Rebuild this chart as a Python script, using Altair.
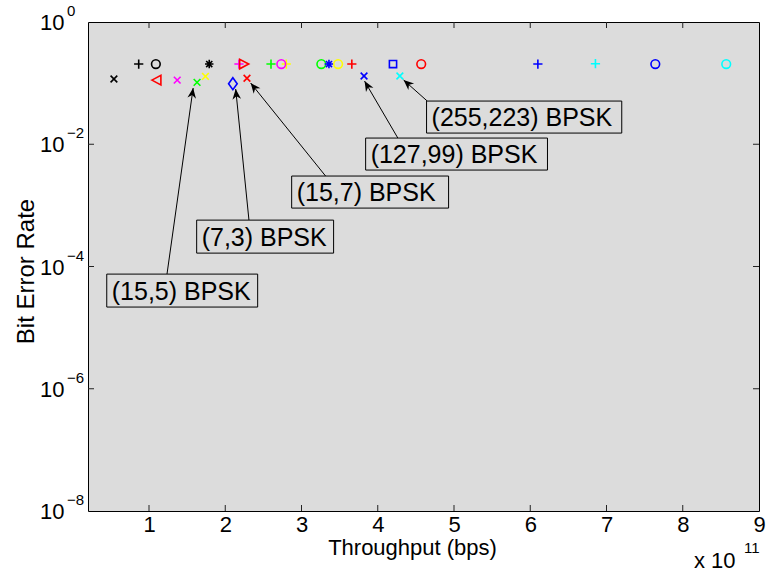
import math
import altair as alt
import pandas as pd

FONT = "Liberation Sans"

# ---- data (x in units of 1e11 bps) ----
throughput = [0.54, 0.865, 1.09, 1.10, 1.37, 1.63, 1.74, 1.79, 2.10, 2.18, 2.245, 2.285,
              2.60, 2.80, 2.735, 3.26, 3.36, 3.48, 3.66, 3.82, 4.20, 4.29, 4.57,
              6.10, 6.855, 7.64, 8.57]
ber = [0.117, 0.205, 0.205, 0.112, 0.112, 0.103, 0.129, 0.205, 0.0977, 0.205, 0.205, 0.120,
       0.205, 0.205, 0.205, 0.205, 0.205, 0.205, 0.205, 0.131, 0.205, 0.131, 0.205,
       0.205, 0.208, 0.205, 0.205]
color_codes = ['k', 'k', 'k', 'r', 'm', 'g', 'y', 'k', 'b', 'm', 'r', 'r',
               'g', 'y', 'm', 'g', 'b', 'y', 'r', 'b', 'b', 'c', 'r',
               'b', 'c', 'b', 'c']
marker_codes = ['x', '+', 'o', '<', 'x', 'x', 'x', '*', 'd', '+', '>', 'x',
                '+', '+', 'o', 'o', '*', 'o', '+', 'x', 's', 'x', 'o',
                '+', '+', 'o', 'o']

ann_labels = ['(15,5) BPSK', '(7,3) BPSK', '(15,7) BPSK', '(127,99) BPSK', '(255,223) BPSK']
ann_box_x1 = [0.446, 1.625, 2.871, 3.841, 4.64]
ann_box_x2 = [2.425, 3.421, 4.929, 6.226, 7.20]
ann_box_top = [7.51e-5, 5.74e-4, 3.02e-3, 1.263e-2, 5.09e-2]
ann_box_bot = [2.17e-5, 1.656e-4, 9.03e-4, 3.784e-3, 1.524e-2]
ann_tail_x = [1.236, 2.311, 3.316, 4.264, 4.649]
ann_tail_y = [7.5e-5, 5.74e-4, 3.02e-3, 1.26e-2, 5.09e-2]
ann_head_x = [1.579, 2.137, 2.333, 3.827, 4.339]
ann_head_y = [0.0832, 0.080, 0.1004, 0.108, 0.1124]

x_ticks = [1, 2, 3, 4, 5, 6, 7, 8, 9]
y_ticks = [1e-8, 1e-6, 1e-4, 1e-2, 1]
y_tick_exp = ['−8', '−6', '−4', '−2', '0']

x_title = 'Throughput (bps)'
y_title = 'Bit Error Rate'
mult_base = 'x 10'
mult_exp = '11'

# ---- layout / styles ----
W, H = 671, 489
XMIN, XMAX = 0.2, 9.0
YMIN, YMAX = 1e-8, 1.0
BG = '#dcdcdc'

color_map = {'k': '#000000', 'r': '#ff0000', 'g': '#00ff00', 'b': '#0000ff',
             'c': '#00ffff', 'm': '#ff00ff', 'y': '#ffff00'}
PLUS = 'M-1,0L1,0M0,-1L0,1'
CROSS = 'M-1,-1L1,1M-1,1L1,-1'
STAR = PLUS + 'M-0.72,-0.72L0.72,0.72M-0.72,0.72L0.72,-0.72'
shape_map = {'x': CROSS, '+': PLUS, '*': STAR, 'o': 'circle',
             '<': 'M-1,0L0.9,-1L0.9,1Z', '>': 'M1,0L-0.9,-1L-0.9,1Z',
             'd': 'M0,-1L0.72,0L0,1L-0.72,0Z', 's': 'square'}
size_map = {'x': 45, '+': 85, '*': 72, 'o': 75, '<': 90, '>': 90, 'd': 144, 's': 52}
ARROW = 'M0,0L-0.42,1L0,0.7L0.42,1Z'

mk = list(shape_map.keys())
cc = list(color_map.keys())

xscale = alt.Scale(domain=[XMIN, XMAX], nice=False, zero=False)
yscale = alt.Scale(type='log', domain=[YMIN, YMAX], nice=False)
xaxis = alt.Axis(values=x_ticks, format='d', title=x_title, labelFontSize=22, labelFont=FONT,
                 titleFont=FONT, titleFontSize=22, titleFontWeight='normal', titleColor='black',
                 labelColor='black', ticks=False, domain=False, grid=False, labelPadding=3,
                 labelFlush=False, labelOverlap=False, titleX=324, titleY=43,
                 titleBaseline='alphabetic')
yaxis = alt.Axis(labels=False, ticks=False, domain=False, grid=False, title=y_title,
                 titleFont=FONT, titleFontSize=24, titleFontWeight='normal', titleColor='black',
                 titleX=-55, titleY=249, titleBaseline='alphabetic', titleAngle=270)


def X(f):
    return alt.X(f, type='quantitative', scale=xscale, axis=xaxis)


def Y(f):
    return alt.Y(f, type='quantitative', scale=yscale, axis=yaxis)


def px(x):
    return (x - XMIN) / (XMAX - XMIN) * W


def py(y):
    return (math.log10(YMAX) - math.log10(y)) / (math.log10(YMAX) - math.log10(YMIN)) * H


pts = pd.DataFrame({'x': throughput, 'y': ber, 'c': color_codes, 'm': marker_codes,
                    'i': list(range(len(throughput)))})
pts['sz'] = pts['m'].map(size_map)

points = alt.Chart(pts).mark_point(filled=False, strokeWidth=1.6, opacity=1).encode(
    x=X('x'), y=Y('y'),
    color=alt.Color('c:N', scale=alt.Scale(domain=cc, range=[color_map[k] for k in cc]), legend=None),
    shape=alt.Shape('m:N', scale=alt.Scale(domain=mk, range=[shape_map[k] for k in mk]), legend=None),
    size=alt.Size('sz:Q', scale=None),
    order=alt.Order('i:Q'),
)

xt = pd.DataFrame({'x': x_ticks[:-1]})
yt = pd.DataFrame({'y': y_ticks[1:-1]})
tick_color = '#222222'
ticks = alt.layer(
    alt.Chart(xt).mark_rule(color=tick_color).encode(x=X('x'), y=alt.value(H), y2=alt.value(H - 6)),
    alt.Chart(xt).mark_rule(color=tick_color).encode(x=X('x'), y=alt.value(0), y2=alt.value(6)),
    alt.Chart(yt).mark_rule(color=tick_color).encode(y=Y('y'), x=alt.value(0), x2=alt.value(6)),
    alt.Chart(yt).mark_rule(color=tick_color).encode(y=Y('y'), x=alt.value(W), x2=alt.value(W - 6)),
)

angles = []
for tx, ty, hx, hy in zip(ann_tail_x, ann_tail_y, ann_head_x, ann_head_y):
    dx = px(hx) - px(tx)
    dy = py(hy) - py(ty)
    angles.append(math.degrees(math.atan2(dx, -dy)) % 360)

ann = pd.DataFrame({
    'label': ann_labels, 'bx1': ann_box_x1, 'bx2': ann_box_x2,
    'bt': ann_box_top, 'bb': ann_box_bot,
    'ym': [math.sqrt(a * b) for a, b in zip(ann_box_top, ann_box_bot)],
    'tx': ann_tail_x, 'ty': ann_tail_y, 'hx': ann_head_x, 'hy': ann_head_y,
    'ang': angles,
})

arrow_lines = alt.Chart(ann).mark_rule(color='black', strokeWidth=1).encode(
    x=X('tx'), y=Y('ty'), x2='hx:Q', y2='hy:Q')
arrow_heads = alt.Chart(ann).mark_point(shape=ARROW, filled=True, size=420, color='black',
                                        opacity=1, strokeWidth=0).encode(
    x=X('hx'), y=Y('hy'), angle=alt.Angle('ang:Q', scale=None))
boxes = alt.Chart(ann).mark_rect(fill=BG, stroke='black', strokeWidth=1).encode(
    x=X('bx1'), x2='bx2:Q', y=Y('bt'), y2='bb:Q')
box_text = alt.Chart(ann).mark_text(align='left', baseline='middle', dx=5, dy=1, fontSize=25,
                                    font=FONT, color='black').encode(
    x=X('bx1'), y=Y('ym'), text='label:N')

ylab = pd.DataFrame({'y': y_ticks, 'e': y_tick_exp, 'b': ['10'] * len(y_ticks)})
ytext_base = alt.Chart(ylab).mark_text(align='left', baseline='middle', fontSize=22, font=FONT,
                                       color='black', dy=1).encode(
    y=Y('y'), x=alt.value(-48), text='b:N')
ytext_exp = alt.Chart(ylab).mark_text(align='left', baseline='middle', fontSize=15, font=FONT,
                                      color='black', dy=-11).encode(
    y=Y('y'), x=alt.value(-21), text='e:N')

mult = pd.DataFrame({'t': [mult_base], 'e': [mult_exp]})
mult_base_t = alt.Chart(mult).mark_text(align='left', baseline='alphabetic', fontSize=22,
                                        font=FONT, color='black').encode(
    x=alt.value(606), y=alt.value(546), text='t:N')
mult_exp_t = alt.Chart(mult).mark_text(align='left', baseline='alphabetic', fontSize=15,
                                       font=FONT, color='black').encode(
    x=alt.value(656), y=alt.value(531), text='e:N')

chart = alt.layer(
    ticks, points, arrow_lines, arrow_heads, boxes, box_text,
    ytext_base, ytext_exp, mult_base_t, mult_exp_t,
).properties(
    width=W, height=H,
    autosize=alt.AutoSizeParams(type='none'),
    padding={'left': 88, 'top': 22, 'right': 9, 'bottom': 69},
    background='white',
).configure_view(
    fill=BG, stroke='black', strokeWidth=1,
)

chart.save('out.html', embed_options={'renderer': 'svg', 'actions': False})
